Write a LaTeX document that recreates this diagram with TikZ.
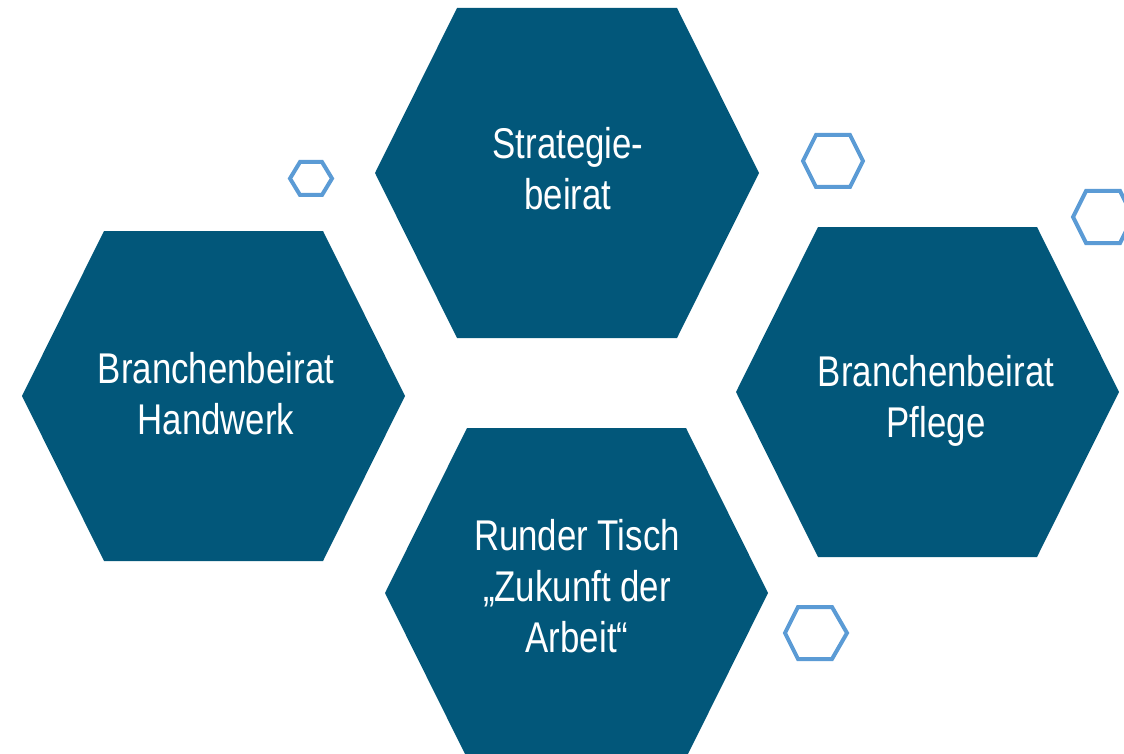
\documentclass[tikz,border=0pt]{standalone}
\usepackage{fontspec}
\setmainfont{Liberation Sans}[FakeStretch=0.81]
\usetikzlibrary{calc}
\definecolor{hexblue}{HTML}{02577A}
\definecolor{ringblue}{HTML}{5B9BD5}

\begin{document}
\begin{tikzpicture}[x=1pt,y=-1pt,
  hexfill/.style={fill=hexblue,draw=none},
  ring/.style={draw=ringblue,line width=4pt,line join=miter},
  boxtext/.style={text=white,align=center,inner sep=0pt,font=\fontsize{43}{51}\selectfont}]
\useasboundingbox (0,0) rectangle (1124,754);

% big hexagons
\fill[hexfill] (375,173)--(457,8)--(677,8)--(759,173)--(677,338)--(457,338)--cycle;
\fill[hexfill] (22,396)--(104,231)--(323,231)--(405,396)--(323,561)--(104,561)--cycle;
\fill[hexfill] (736,392)--(818,227)--(1037,227)--(1119,392)--(1037,557)--(818,557)--cycle;
\fill[hexfill] (385,593)--(467,428)--(686,428)--(768,593)--(686,758)--(467,758)--cycle;

\node[boxtext] (strat) at (568,169) {Strategie-\\beirat};
\node[boxtext] (handw) at (216,394) {Branchenbeirat\\Handwerk};
\node[boxtext] (pflege) at (936,401) {Branchenbeirat\\Pflege};
\node[boxtext] (tisch) at (577,586) {Runder Tisch\\„Zukunft der\\Arbeit“};

% small rings
\draw[ring] (290,178.5)--(300,162)--(322,162)--(332,178.5)--(322,195)--(300,195)--cycle;
\draw[ring] (803,161)--(816,135)--(850,135)--(863,161)--(850,187)--(816,187)--cycle;
\draw[ring] (1073,217)--(1086,191)--(1120,191)--(1133,217)--(1120,243)--(1086,243)--cycle;
\draw[ring] (785,633)--(798,607)--(832,607)--(847,633)--(832,659)--(798,659)--cycle;
\end{tikzpicture}
\end{document}
